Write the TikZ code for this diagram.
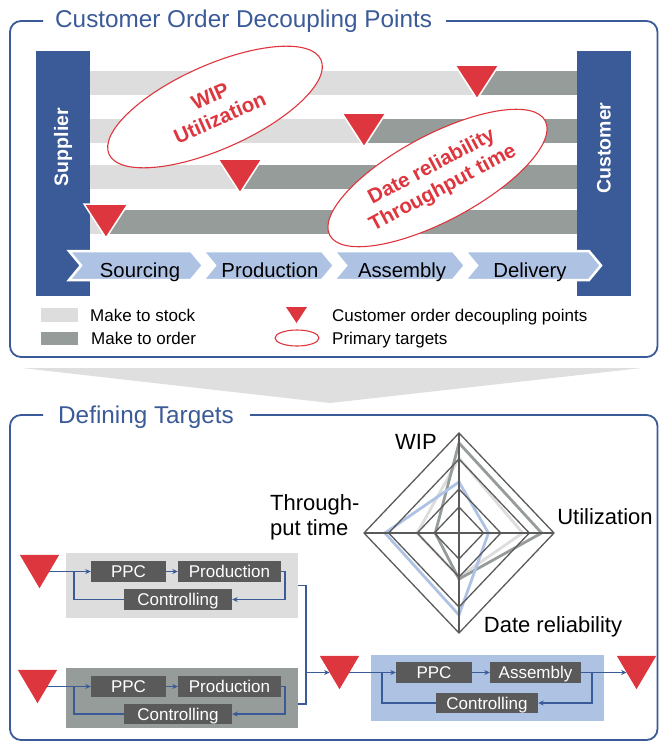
\documentclass[tikz,border=0pt]{standalone}
\usepackage{fontspec}
\setmainfont{Liberation Sans}
\usetikzlibrary{arrows.meta,shapes.geometric,calc}

\definecolor{frameblue}{RGB}{59,90,152}
\definecolor{stockgray}{RGB}{221,221,221}
\definecolor{ordergray}{RGB}{149,156,153}
\definecolor{cdpred}{RGB}{221,54,62}
\definecolor{stepblue}{RGB}{174,195,228}
\definecolor{boxgray}{RGB}{90,90,90}
\definecolor{wedgegray}{RGB}{223,223,223}

% chevron step between x=#1 and x=#2
\newcommand{\chevpath}[2]{(#1,251) -- ({#2-12},251) -- (#2,265.5) -- ({#2-12},280) -- (#1,280) -- ({#1+12},265.5) -- cycle}
% radar polygon: top, right, bottom, left as fractions of the axes
\newcommand{\radarpath}[4]{(459,{533-100*#1}) -- ({459+95*#2},533) -- (459,{533+100*#3}) -- ({459-95*#4},533) -- cycle}

\tikzset{
  frameline/.style={draw=frameblue,line width=1.8pt,rounded corners=11pt},
  frametitle/.style={text=frameblue,font=\fontsize{24.3}{28}\selectfont,anchor=base west,inner sep=0pt},
  endbar/.style={fill=frameblue,minimum width=54pt,minimum height=245pt,inner sep=0pt},
  endlabel/.style={text=white,font=\fontsize{19.5}{22}\selectfont\bfseries,rotate=90,inner sep=0pt},
  cdpmark/.style={fill=cdpred,draw=white,line width=1.5pt},
  chevron/.style={fill=stepblue,draw=white,line width=2.5pt},
  steplabel/.style={font=\fontsize{20.3}{24}\selectfont,anchor=base,inner sep=0pt},
  target/.style={ellipse,draw=cdpred,line width=1.1pt,fill=white,text=cdpred,
    font=\fontsize{20.5}{24}\selectfont\bfseries,align=center,inner sep=0pt},
  legendtext/.style={font=\fontsize{17}{20}\selectfont,anchor=base west,inner sep=0pt},
  radarlabel/.style={font=\fontsize{22}{25}\selectfont,inner sep=0pt},
  gridline/.style={draw=boxgray,line width=1.3pt},
  series/.style={line width=2.8pt,line join=round},
  bgbox/.style={inner sep=0pt},
  taskbox/.style={fill=boxgray,text=white,font=\fontsize{17}{20}\selectfont,
    minimum height=21pt,inner sep=0pt,text height=12.2pt,text depth=0pt},
  cdpslot/.style={minimum width=39pt,minimum height=33pt,inner sep=0pt},
  flow/.style={draw=frameblue,line width=1.8pt},
  tip/.style={-{Stealth[length=5.5pt,width=5pt]}}
}

\begin{document}
\begin{tikzpicture}[x=1pt,y=-1pt]
\useasboundingbox (0,0) rectangle (659,742);

% ---------- upper panel: decoupling points ----------
\draw[frameline] (43,21) -- (10,21) -- (10,357) -- (657.5,357) -- (657.5,21) -- (446,21);
\node[frametitle] (title1) at (55,27.5) {Customer Order Decoupling Points};

\node[endbar] (supplier) at (63,173.5) {};
\node[endbar] (customer) at (604,173.5) {};
\node[endlabel] (supplierlbl) at (63,147) {Supplier};
\node[endlabel] (customerlbl) at (604,148) {Customer};

% order flows: make to stock up to the decoupling point, make to order after it
\foreach \tx/\yc in {477/83,364/131,240/177,106/222}{
  \fill[stockgray] (90,{\yc-12}) rectangle (577,{\yc+12});
  \fill[ordergray] (\tx,{\yc-12}) rectangle (577,{\yc+12});
}

% primary targets
\node[target,minimum width=232pt,minimum height=84pt,rotate=24] (tgt1) at (215,107) {WIP\\Utilization};
\node[target,minimum width=244pt,minimum height=86pt,rotate=28] (tgt2) at (437.5,178) {Date reliability\\Throughput time};

% decoupling points
\foreach \tx/\yc in {477/83,364/131,240/177,106/222}{
  \filldraw[cdpmark] ({\tx-22},{\yc-18}) -- ({\tx+22},{\yc-18}) -- (\tx,{\yc+16}) -- cycle;
}

% process chain
\path[chevron] \chevpath{69}{203};
\path[chevron] \chevpath{203}{334};
\path[chevron] \chevpath{334}{465};
\path[chevron] \chevpath{465}{601};
\node[steplabel] (s1) at (140,277) {Sourcing};
\node[steplabel] (s2) at (270,277) {Production};
\node[steplabel] (s3) at (402,277) {Assembly};
\node[steplabel] (s4) at (530,277) {Delivery};

% legend
\fill[stockgray] (41,308) rectangle (78,322);
\fill[ordergray] (41,332) rectangle (78,345);
\fill[cdpred] (286,307) -- (307,307) -- (296.5,323) -- cycle;
\draw[draw=cdpred,line width=1.1pt] (297,338) ellipse [x radius=22, y radius=8];
\node[legendtext] (lg1) at (90,321) {Make to stock};
\node[legendtext] (lg2) at (91,344) {Make to order};
\node[legendtext] (lg3) at (332,321) {Customer order decoupling points};
\node[legendtext] (lg4) at (332,344) {Primary targets};

% transition wedge
\fill[wedgegray] (22,368) -- (642,368) -- (330,403) -- cycle;

% ---------- lower panel: defining targets ----------
\draw[frameline] (43,415) -- (10,415) -- (10,740) -- (657.5,740) -- (657.5,415) -- (250,415);
\node[frametitle] (title2) at (58,423) {Defining Targets};

% radar chart
\draw[series,draw=stockgray] \radarpath{0.75}{0.67}{0.44}{0.44};
\draw[series,draw=ordergray] \radarpath{0.90}{0.87}{0.46}{0.25};
\draw[series,draw=stepblue] \radarpath{0.51}{0.31}{0.82}{0.78};
\foreach \r in {1,0.74,0.44,0.26}{
  \draw[gridline] \radarpath{\r}{\r}{\r}{\r};
}
\draw[gridline] (459,433) -- (459,633);
\draw[gridline] (364,533) -- (554,533);
\node[radarlabel] (lwip) at (416,442) {WIP};
\node[radarlabel] (lutil) at (605,517) {Utilization};
\node[radarlabel,align=left,anchor=north west] (ltpt) at (270,494) {Through-\\put time};
\node[radarlabel] (ldate) at (553,627) {Date reliability};

% control loops
\node[bgbox,fill=stockgray,minimum width=232pt,minimum height=65pt] (bg1) at (182,585.5) {};
\node[taskbox,minimum width=75pt] (ppc1) at (128.5,571.5) {PPC};
\node[taskbox,minimum width=103pt] (prod1) at (229.5,571.5) {Production};
\node[taskbox,minimum width=108pt] (ctrl1) at (178,599.5) {Controlling};
\node[cdpslot] (k1) at (39.5,571.5) {};
\coordinate (j1) at (74,571.5);

\node[bgbox,fill=ordergray,minimum width=232pt,minimum height=60pt] (bg2) at (182,698) {};
\node[taskbox,minimum width=75pt] (ppc2) at (128.5,686.5) {PPC};
\node[taskbox,minimum width=103pt] (prod2) at (229.5,686.5) {Production};
\node[taskbox,minimum width=108pt,minimum height=20pt] (ctrl2) at (178,714) {Controlling};
\node[cdpslot] (k2) at (37.5,686.5) {};
\coordinate (j2) at (74,686.5);
\coordinate (o2) at (298,704);

\coordinate (m) at (306,672.5);
\node[cdpslot] (k3) at (339.5,672.5) {};

\node[bgbox,fill=stepblue,minimum width=233pt,minimum height=66pt] (bg3) at (487.5,688) {};
\node[taskbox,minimum width=76pt] (ppc3) at (434,672.5) {PPC};
\node[taskbox,minimum width=91pt] (asm) at (535.5,672.5) {Assembly};
\node[taskbox,minimum width=102pt,minimum height=20pt] (ctrl3) at (487,703) {Controlling};
\node[cdpslot] (k4) at (636.5,672.5) {};
\coordinate (j3) at (382,672.5);

\draw[flow,tip] (k1.center) -- (ppc1.west);
\draw[flow,tip] (ppc1.east) -- (prod1.west);
\draw[flow,tip] (prod1.east) -- ++(4,0) |- (ctrl1.east);
\draw[flow] (ctrl1.west) -| (j1);

\draw[flow,tip] (k2.center) -- (ppc2.west);
\draw[flow,tip] (ppc2.east) -- (prod2.west);
\draw[flow,tip] (prod2.east) -- ++(4,0) |- (ctrl2.east);
\draw[flow] (ctrl2.west) -| (j2);

\draw[flow] (bg1.east) -| (m);
\draw[flow] (o2) -| (m);
\draw[flow,tip] (m) -- ($(k3.west)!0.5!(k3.center)$);

\draw[flow,tip] (k3.center) -- (ppc3.west);
\draw[flow,tip] (ppc3.east) -- (asm.west);
\draw[flow,tip] (asm.east) -- ($(k4.west)!0.5!(k4.center)$);
\draw[flow,tip] (asm.east) -- ++(11,0) |- (ctrl3.east);
\draw[flow] (ctrl3.west) -| (j3);

\foreach \k in {k1,k2,k3,k4}{
  \fill[cdpred] (\k.north west) -- (\k.north east) -- (\k.south) -- cycle;
}
\end{tikzpicture}
\end{document}
